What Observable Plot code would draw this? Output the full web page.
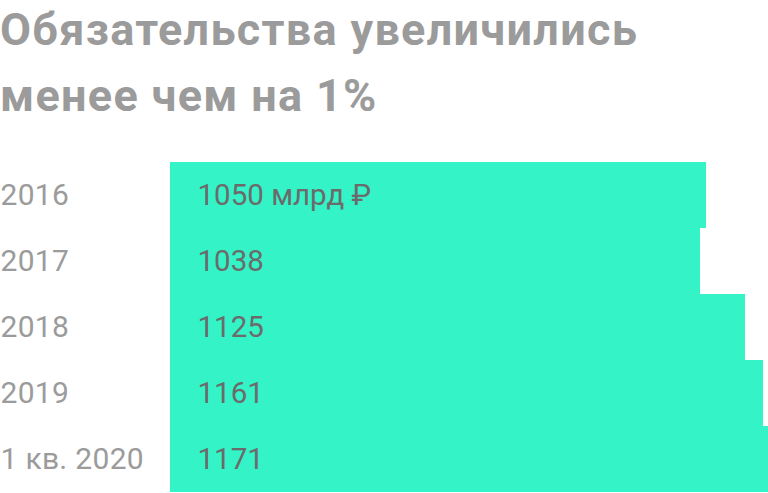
<!DOCTYPE html>
<html>
<head>
<meta charset="utf-8">
<script src="https://cdn.jsdelivr.net/npm/d3@7"></script>
<script src="https://cdn.jsdelivr.net/npm/@observablehq/plot@0.6"></script>
<style>
  html, body { margin: 0; padding: 0; background: #fff; overflow: hidden; }
  #title {
    font-family: Roboto, "Noto Sans", sans-serif;
    font-weight: 700;
    font-size: 45px;
    line-height: 66px;
    color: #9b9b9b;
    height: 150px;
    margin: 0;
    padding: 0;
    position: relative;
    top: -3px;
    letter-spacing: 1.3px;
    white-space: nowrap;
  }
  #chart { position: absolute; top: 150px; left: 0; }
  #chart svg g.years text { letter-spacing: 0.3px; }
</style>
</head>
<body>
<div id="title">Обязательства увеличились<br>менее чем на 1%</div>
<div id="chart"></div>
<script>
const periods = ["2016", "2017", "2018", "2019", "1 кв. 2020"];
const values = [1050, 1038, 1125, 1161, 1171];
const unit = " млрд ₽";

const data = periods.map((p, i) => ({period: p, value: values[i]}));

const chart = Plot.plot({
  width: 768,
  height: 343,
  marginLeft: 170,
  marginRight: 0,
  marginTop: 11,
  marginBottom: 1,
  x: {domain: [0, 1171], axis: null},
  y: {domain: periods, padding: 0, axis: null},
  style: {fontFamily: "Roboto, 'Noto Sans', sans-serif", background: "transparent"},
  marks: [
    Plot.barX(data, {y: "period", x: "value", fill: "#34f3c6", shapeRendering: "crispEdges"}),
    Plot.text(data, {
      y: "period", text: "period", frameAnchor: "left", textAnchor: "start",
      dx: -170, fontSize: 30, fill: "#9b9b9b", fontWeight: 400, className: "years"
    }),
    Plot.text(data, {
      y: "period", x: () => 0,
      text: (d, i) => i === 0 ? d.value + unit : String(d.value),
      textAnchor: "start", dx: 27, fontSize: 29.5, fill: "#6b6b6b", fontWeight: 400
    })
  ]
});
document.getElementById("chart").appendChild(chart);
</script>
</body>
</html>
